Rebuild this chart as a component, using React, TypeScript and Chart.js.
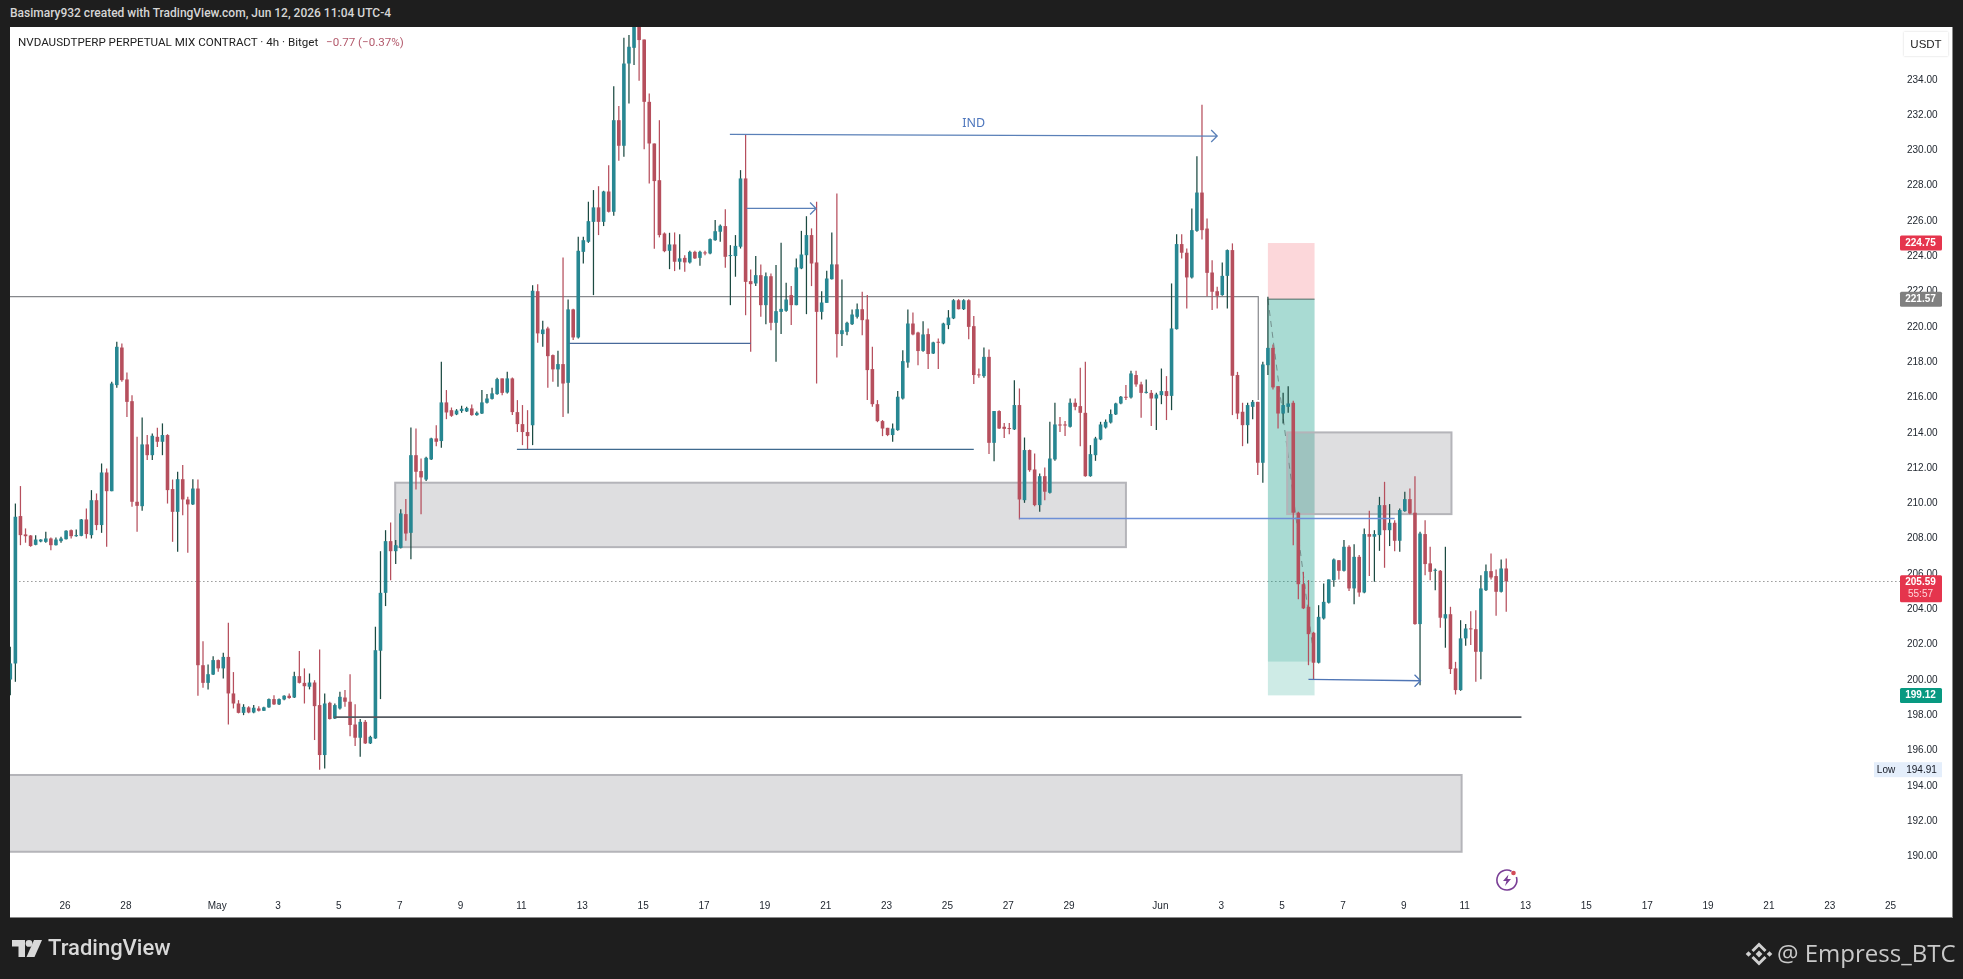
import React, { useEffect, useRef } from "react";
import { Chart, registerables } from "chart.js";

Chart.register(...registerables);

// ---- candles (4h NVDAUSDT perpetual) ----
const opens = [
200.02,200.93,209.28,208.24,208.18,207.65,207.84,207.82,208.01,207.63,
207.86,207.97,208.48,208.14,208.16,209.09,208.20,210.18,208.77,211.75,
210.69,216.70,218.83,217.02,215.79,210.09,209.84,213.34,212.73,213.77,
213.49,213.87,210.81,209.52,211.37,210.22,209.94,210.84,200.83,199.83,
200.30,201.12,200.65,201.30,199.23,198.66,198.13,198.44,198.15,198.38,
198.25,198.44,198.91,198.61,198.89,199.10,199.00,200.21,199.83,199.61,
199.85,198.57,195.74,198.70,197.81,198.38,199.00,198.76,197.47,196.72,
197.62,196.40,196.68,201.65,204.93,207.86,207.29,207.48,209.39,208.33,
212.73,211.83,211.35,212.49,213.68,213.53,215.72,215.28,215.04,215.23,
215.21,215.38,215.00,215.09,215.70,215.92,216.19,217.08,216.28,217.08,
215.17,214.49,214.04,214.43,222.02,219.59,219.91,218.40,217.59,217.89,
216.83,220.99,219.40,224.25,224.82,225.95,226.77,225.95,227.67,226.52,
231.71,230.26,234.92,235.81,237.40,236.28,232.75,230.39,228.31,225.29,
224.31,224.67,223.69,223.91,223.65,224.25,223.91,224.22,224.16,224.91,
225.39,225.71,224.01,224.01,224.54,228.41,222.59,222.46,222.93,221.23,
222.87,220.23,220.85,220.91,221.80,221.23,223.31,224.06,225.20,223.65,
220.85,221.36,222.70,223.54,219.59,219.72,220.15,220.57,221.00,220.42,
217.61,215.62,214.66,214.28,213.87,214.15,215.94,217.98,220.19,219.68,
218.64,219.59,218.49,219.15,219.06,220.10,220.48,221.51,221.00,221.51,
220.04,217.30,217.21,218.30,213.43,215.23,214.34,214.24,214.19,215.57,
210.18,213.02,211.92,209.90,211.54,210.60,212.49,214.47,214.47,214.34,
215.70,215.51,215.13,211.54,212.73,213.62,214.30,214.58,215.04,215.66,
216.04,216.00,217.27,216.74,216.26,216.26,215.94,216.13,216.36,216.09,
219.87,224.69,224.20,222.80,225.44,227.61,225.57,223.08,222.02,221.80,
222.89,224.35,217.27,215.19,214.43,215.47,215.75,212.30,217.83,218.81,
216.64,215.09,215.47,215.70,209.47,205.42,204.14,202.67,200.97,203.48,
204.37,205.65,206.78,206.18,207.54,205.18,206.97,204.95,208.26,208.11,
208.20,209.90,208.48,208.90,207.88,209.56,210.24,209.47,203.16,208.26,
206.60,206.18,206.18,203.48,203.72,200.65,199.42,202.35,202.91,202.87,
201.59,205.08,206.16,205.88,204.99,206.31];

const closes = [
200.93,209.24,208.20,208.14,207.58,207.95,207.95,208.01,207.63,207.95,
208.01,208.45,208.14,208.20,209.09,208.26,210.18,208.77,211.75,210.69,
216.79,218.87,216.98,215.75,210.09,209.86,213.34,212.73,213.83,213.49,
213.87,210.75,209.52,211.37,210.22,209.94,210.84,200.83,199.83,200.32,
201.12,200.65,201.30,199.23,198.66,198.13,198.47,198.15,198.42,198.25,
198.44,198.91,198.61,198.91,199.10,198.97,200.21,199.83,199.64,199.85,
198.51,195.74,198.66,197.78,198.57,199.04,198.76,197.44,196.72,197.62,
196.40,196.77,201.68,204.93,207.86,207.29,207.63,209.43,208.29,212.73,
211.79,211.47,212.58,213.68,213.49,215.72,215.15,214.96,215.26,215.36,
215.40,215.00,215.13,215.72,215.94,216.23,217.04,216.26,217.08,215.17,
214.49,214.04,213.81,222.04,219.63,219.85,218.34,217.59,217.89,216.79,
220.99,219.40,224.31,224.91,225.99,226.77,225.95,227.67,226.52,231.71,
230.26,234.92,235.87,237.40,236.25,232.75,230.39,228.26,225.20,224.29,
224.67,223.69,223.88,223.65,224.25,223.88,224.25,224.16,224.97,225.42,
225.73,223.97,224.06,224.59,228.41,222.55,222.42,222.93,221.23,222.87,
220.23,220.89,221.02,221.55,221.23,223.37,224.10,225.20,223.59,220.85,
221.38,222.74,223.54,219.59,219.81,220.23,220.70,221.00,220.38,217.55,
215.62,214.66,214.24,213.87,214.24,216.04,218.06,220.19,219.57,218.63,
219.57,218.46,219.12,219.10,220.19,220.53,221.51,221.00,221.51,220.00,
217.27,217.25,218.30,213.43,215.23,214.24,214.22,214.21,215.57,210.22,
213.02,211.88,209.90,211.54,210.66,212.54,214.47,214.41,214.41,215.70,
215.47,215.13,211.54,212.79,213.68,214.47,214.62,215.06,215.66,216.04,
215.98,217.36,216.74,216.26,216.32,215.94,216.17,216.36,216.08,219.91,
224.69,224.20,222.80,225.48,227.61,225.48,223.06,221.99,221.76,222.89,
224.35,217.23,215.09,214.43,215.57,215.75,212.30,217.87,218.81,216.57,
215.09,215.57,215.66,209.47,205.42,204.05,202.59,200.97,203.57,204.42,
205.69,206.82,206.18,207.54,205.18,206.97,204.95,208.26,208.11,208.26,
209.90,208.48,208.90,207.88,209.62,210.24,209.43,203.16,208.29,206.56,
206.12,206.22,203.52,203.72,200.61,199.42,202.35,202.91,202.86,201.59,
205.18,206.16,205.80,204.99,206.31,205.59];

const highs = [
201.87,209.99,210.98,208.58,208.20,208.20,207.97,208.39,208.07,208.07,
208.11,208.48,208.52,208.52,209.11,209.71,210.75,210.56,212.26,211.98,
216.89,219.15,219.06,217.42,216.13,213.77,214.87,213.87,213.96,214.28,
214.53,213.92,211.35,211.79,212.17,210.37,211.37,211.35,202.19,200.87,
201.34,201.16,201.53,203.23,200.44,198.85,198.62,198.51,198.57,198.51,
198.47,198.95,199.13,198.95,199.13,199.23,200.46,201.63,200.65,200.36,
199.98,201.72,199.23,198.76,198.66,199.32,199.42,200.32,198.62,197.78,
197.72,196.83,203.01,207.29,208.48,208.92,207.92,209.67,210.24,214.30,
214.24,212.54,212.64,213.72,214.43,218.02,216.42,215.43,215.34,215.53,
215.47,215.60,215.21,216.42,216.19,216.55,217.11,217.08,217.45,217.13,
215.85,215.57,215.28,222.36,222.42,220.34,220.00,218.44,218.64,223.93,
221.55,221.02,225.10,225.10,227.09,227.75,227.97,227.71,229.16,233.64,
232.51,236.38,236.53,238.00,238.00,236.28,233.22,230.39,231.71,225.35,
225.33,225.35,225.25,224.06,224.31,224.31,224.31,224.31,225.01,226.05,
225.80,226.67,224.63,225.20,228.88,230.90,223.25,224.01,223.54,223.08,
223.03,223.50,224.76,222.50,222.31,223.88,225.44,226.27,225.58,227.09,
222.02,223.18,225.35,227.56,222.69,220.29,220.99,221.33,221.99,221.80,
218.87,215.85,214.72,214.28,214.53,216.36,218.68,220.99,220.82,219.72,
220.32,219.91,219.15,219.34,220.23,220.95,221.57,221.57,221.57,221.57,
220.61,217.64,218.83,218.72,215.23,215.28,214.56,214.56,216.98,216.51,
213.73,213.05,212.83,211.69,212.03,214.62,215.70,214.90,214.66,215.94,
215.94,217.68,218.02,213.30,213.77,214.62,214.75,215.32,215.70,216.08,
216.70,217.51,217.51,216.89,217.02,216.42,216.26,217.64,217.21,222.46,
225.25,225.25,224.44,226.71,229.67,232.58,226.14,223.78,222.27,223.65,
224.39,224.73,217.45,215.70,215.70,215.85,215.75,218.02,221.70,219.00,
216.64,216.26,216.64,215.81,209.52,206.12,205.65,202.72,204.23,205.46,
205.69,206.88,206.78,207.92,207.63,207.69,207.07,208.58,209.58,208.48,
210.37,211.22,209.96,209.05,209.71,210.66,210.84,211.54,208.39,209.05,
207.54,206.31,206.22,207.54,204.14,201.02,203.38,203.16,203.89,203.95,
205.93,206.54,207.16,206.25,206.82,206.88];

const lows = [
199.13,199.89,207.63,207.77,207.54,207.63,207.80,207.77,207.35,207.61,
207.77,207.95,208.01,208.11,208.14,208.01,208.01,208.48,208.33,207.54,
210.69,216.55,216.89,214.90,209.81,208.39,209.58,212.45,212.45,213.20,
212.73,209.99,207.82,207.26,209.33,207.20,209.90,199.10,199.55,199.46,
200.27,200.46,200.08,197.47,198.38,198.10,198.00,198.11,198.11,198.21,
198.23,198.42,198.57,198.57,198.85,198.93,198.97,199.80,198.66,199.46,
196.59,194.91,194.98,197.76,197.78,198.32,198.47,196.81,196.25,195.64,
196.36,196.36,196.66,198.91,204.18,205.65,206.56,207.44,207.88,206.84,
210.79,209.39,211.26,212.45,213.24,213.15,214.77,214.90,215.00,215.13,
215.17,214.96,214.96,215.06,215.66,215.89,216.15,216.13,216.23,215.00,
214.04,213.30,213.07,213.30,219.10,218.87,216.55,216.89,216.60,214.90,
215.09,219.25,219.34,223.59,224.76,221.80,225.20,225.71,226.48,226.29,
229.41,229.64,232.66,234.83,233.94,230.07,228.12,224.42,225.07,224.23,
223.27,223.16,223.25,223.12,223.59,223.84,223.46,224.06,224.12,224.88,
224.82,223.35,221.23,222.84,224.44,220.66,218.59,222.31,220.57,220.15,
219.81,218.02,219.59,220.85,220.10,221.23,223.27,220.72,222.31,216.79,
220.42,221.36,222.69,218.27,218.91,219.53,220.10,220.48,219.53,215.85,
215.47,214.60,213.81,213.81,213.49,214.11,215.89,217.68,219.53,217.83,
218.59,217.61,218.46,217.61,219.02,219.87,220.44,220.99,220.95,219.30,
216.76,217.11,217.11,212.79,212.39,214.21,213.71,213.92,214.15,209.09,
210.03,211.79,209.84,209.52,210.18,210.56,212.41,214.05,213.81,214.30,
215.28,213.24,211.51,211.51,212.41,213.58,214.24,214.53,215.00,215.62,
215.85,215.94,216.60,214.85,216.23,214.38,214.15,215.62,214.72,215.28,
219.85,223.88,221.04,222.74,225.39,224.95,221.74,220.95,221.04,221.76,
221.04,215.00,214.77,213.24,213.39,214.77,211.60,211.17,217.27,216.45,
214.24,214.53,215.13,207.63,204.56,204.01,200.83,200.02,200.93,203.42,
204.33,205.27,205.69,206.14,205.03,204.29,204.71,204.90,205.88,205.56,
207.31,206.35,207.58,207.29,207.26,209.52,209.39,203.12,199.70,205.93,
205.65,205.08,202.95,201.82,200.33,199.17,199.38,201.93,201.97,199.89,
200.04,205.03,205.69,203.63,204.95,203.86];

// ---- axes ----
const priceTicks = [190,192,194,196,198,200,202,204,206,208,210,212,214,216,218,220,222,224,226,228,230,232,234];
const dateLabels = ["26","28","May","3","5","7","9","11","13","15","17","19","21","23","25","27","29","Jun","3","5","7","9","11","13","15","17","19","21","23","25"];
const dateTickBars = [10.8,22.8,40.8,52.8,64.8,76.8,88.8,100.8,112.8,124.8,136.8,148.8,160.8,172.8,184.8,196.8,208.8,226.8,238.8,250.8,262.8,274.8,286.8,298.8,310.8,322.8,334.8,346.8,358.8,370.8];

// ---- drawings, in candle index and price ----
const zoneBoxes = [
  { from: -2, to: 286.2, top: 194.61, bottom: 190.26 },
  { from: 75.9, to: 220, top: 211.17, bottom: 207.52 },
  { from: 251.8, to: 284.2, top: 214.02, bottom: 209.39 },
];
const shortPosition = { from: 248, to: 257.2, stop: 224.75, entry: 221.57, reached: 201.03, target: 199.12 };
const rangeFrame = [[-2, 221.71], [246.1, 221.71], [246.1, 215.85]];
const plainLines = [
  { from: [110.2, 219.06], to: [146, 219.06], color: "#47699a", width: 1.3 },
  { from: [99.9, 213.06], to: [190, 213.06], color: "#3f6a8e", width: 1.3 },
  { from: [199, 209.14], to: [273, 209.14], color: "#6d8fd6", width: 1.6 },
  { from: [63.9, 197.89], to: [298, 197.89], color: "#555a60", width: 1.8 },
];
const arrows = [
  { from: [141.9, 230.91], to: [238, 230.81], color: "#5a80b8" },
  { from: [145.2, 226.71], to: [158.9, 226.71], color: "#5a80b8" },
  { from: [256, 200.03], to: [278.1, 199.95], color: "#4f75b5" },
];
const indLabel = { text: "IND", bar: 190, price: 231.54 };
const lastPrice = 205.59;
const countdown = "55:57";
const lowPrice = 194.91;

const TEAL = "#278792";
const TEAL_WICK = "#1c4a42";
const RED = "#b64f5d";
const FONT = "'Liberation Sans', sans-serif";

const overlays = {
  id: "overlays",
  beforeDatasetsDraw(chart: any) {
    const { ctx, chartArea: a, scales } = chart;
    const X = (v: number) => scales.x.getPixelForValue(v);
    const Y = (v: number) => scales.y.getPixelForValue(v);
    ctx.save();
    ctx.beginPath();
    ctx.rect(a.left, a.top, a.right - a.left, a.bottom - a.top);
    ctx.clip();
    // last price line
    ctx.strokeStyle = "#666666";
    ctx.setLineDash([1, 3]);
    ctx.lineWidth = 1;
    ctx.beginPath();
    ctx.moveTo(X(1), Math.round(Y(lastPrice)) + 0.5);
    ctx.lineTo(a.right, Math.round(Y(lastPrice)) + 0.5);
    ctx.stroke();
    ctx.setLineDash([]);
    // position tool
    const p = shortPosition;
    const l = X(p.from), w = X(p.to) - l;
    ctx.fillStyle = "rgba(242,54,69,0.2)";
    ctx.fillRect(l, Y(p.stop), w, Y(p.entry) - Y(p.stop));
    ctx.fillStyle = "rgba(8,153,129,0.35)";
    ctx.fillRect(l, Y(p.entry), w, Y(p.reached) - Y(p.entry));
    ctx.fillStyle = "rgba(8,153,129,0.2)";
    ctx.fillRect(l, Y(p.reached), w, Y(p.target) - Y(p.reached));
    ctx.strokeStyle = "#4f6b64";
    ctx.lineWidth = 1;
    ctx.beginPath();
    ctx.moveTo(l, Y(p.entry));
    ctx.lineTo(l + w, Y(p.entry));
    ctx.stroke();
    ctx.strokeStyle = "rgba(90,110,110,0.7)";
    ctx.setLineDash([6, 5]);
    ctx.beginPath();
    ctx.moveTo(l, Y(p.entry));
    ctx.lineTo(l + w, Y(p.reached));
    ctx.stroke();
    ctx.setLineDash([]);
    // zones
    zoneBoxes.forEach((b) => {
      const x = X(b.from), y = Y(b.top), bw = X(b.to) - x, h = Y(b.bottom) - y;
      ctx.fillStyle = "rgba(126,126,136,0.26)";
      ctx.fillRect(x, y, bw, h);
      ctx.strokeStyle = "#b4b4b9";
      ctx.lineWidth = 2;
      ctx.strokeRect(x, y, bw, h);
    });
    // frame
    ctx.strokeStyle = "#86888c";
    ctx.lineWidth = 1.2;
    ctx.beginPath();
    rangeFrame.forEach((pt, i) => {
      if (i === 0) ctx.moveTo(X(pt[0]), Y(pt[1]));
      else ctx.lineTo(X(pt[0]), Y(pt[1]));
    });
    ctx.stroke();
    ctx.restore();
  },
  afterDatasetsDraw(chart: any) {
    const { ctx, scales } = chart;
    const X = (v: number) => scales.x.getPixelForValue(v);
    const Y = (v: number) => scales.y.getPixelForValue(v);
    ctx.save();
    plainLines.forEach((s) => {
      ctx.strokeStyle = s.color;
      ctx.lineWidth = s.width;
      ctx.beginPath();
      ctx.moveTo(X(s.from[0]), Y(s.from[1]));
      ctx.lineTo(X(s.to[0]), Y(s.to[1]));
      ctx.stroke();
    });
    arrows.forEach((s) => {
      const ex = X(s.to[0]), ey = Y(s.to[1]);
      ctx.strokeStyle = s.color;
      ctx.lineWidth = 1.3;
      ctx.beginPath();
      ctx.moveTo(X(s.from[0]), Y(s.from[1]));
      ctx.lineTo(ex, ey);
      ctx.moveTo(ex - 6, ey - 6);
      ctx.lineTo(ex, ey);
      ctx.lineTo(ex - 6, ey + 6);
      ctx.stroke();
    });
    ctx.fillStyle = "#4d76bd";
    ctx.font = "12.5px 'Noto Sans', sans-serif";
    ctx.textAlign = "center";
    ctx.textBaseline = "middle";
    ctx.fillText(indLabel.text, X(indLabel.bar), Y(indLabel.price));

    // price tags on the axis
    const L = 1900, W = 42;
    const tag = (v: number, bg: string, h: number, lines: string[]) => {
      const y = Y(v);
      ctx.fillStyle = bg;
      const top = lines.length > 1 ? y - 6 : y - h / 2;
      ctx.beginPath();
      ctx.roundRect(L, top, W, h, 1.5);
      ctx.fill();
      ctx.textAlign = "center";
      ctx.textBaseline = "middle";
      ctx.font = `bold 10px ${FONT}`;
      ctx.fillStyle = "#ffffff";
      ctx.fillText(lines[0], L + W / 2 - 0.5, top + 7.5);
      if (lines[1]) {
        ctx.font = `10px ${FONT}`;
        ctx.fillStyle = "#ffd5da";
        ctx.fillText(lines[1], L + W / 2 - 0.5, top + 19.5);
      }
    };
    tag(shortPosition.stop, "#e5354d", 15, [shortPosition.stop.toFixed(2)]);
    tag(shortPosition.entry, "#808080", 15, [shortPosition.entry.toFixed(2)]);
    tag(lastPrice, "#e5354d", 27, [lastPrice.toFixed(2), countdown]);
    tag(shortPosition.target, "#089981", 15, [shortPosition.target.toFixed(2)]);
    // low marker
    const ly = Y(lowPrice);
    ctx.fillStyle = "#e4eefb";
    ctx.fillRect(1874, ly - 7.5, 68, 15);
    ctx.fillStyle = "#131722";
    ctx.font = `10px ${FONT}`;
    ctx.fillText("Low", 1886, ly + 0.5);
    ctx.fillText(lowPrice.toFixed(2), 1921.5, ly + 0.5);
    ctx.restore();
  },
};

function BinanceMark() {
  return (
    <svg width="28" height="28" viewBox="0 0 28 28" style={{ position: "absolute", left: 1745, top: 940 }}>
      <g fill="none" stroke="#d0d0d0" strokeWidth="3">
        <path d="M7.5 11 L14 4.5 L20.5 11" />
        <path d="M7.5 17 L14 23.5 L20.5 17" />
      </g>
      <g fill="#d0d0d0">
        <rect x="11.6" y="11.6" width="4.8" height="4.8" transform="rotate(45 14 14)" />
        <rect x="1.5" y="12" width="4" height="4" transform="rotate(45 3.5 14)" />
        <rect x="22.5" y="12" width="4" height="4" transform="rotate(45 24.5 14)" />
      </g>
    </svg>
  );
}

function TvMark() {
  return (
    <svg width="30" height="18" viewBox="0 0 30 18" style={{ position: "absolute", left: 12, top: 940 }}>
      <g fill="#d9d9d9">
        <path d="M0 0 H13 V17 H6.5 V6.5 H0 Z" />
        <circle cx="17" cy="3.4" r="3.4" />
        <path d="M22 0 H30 L22.5 17 H14.5 Z" />
      </g>
    </svg>
  );
}

function BoltMark() {
  return (
    <svg width="26" height="26" viewBox="0 0 26 26" style={{ position: "absolute", left: 1494, top: 867 }}>
      <path d="M17.5 4.2 A10 10 0 1 0 22.4 10" fill="none" stroke="#7a3f96" strokeWidth="1.6" />
      <path d="M14.5 7.5 L9 14 H12.5 L11 19 L17 12 H13.4 Z" fill="#7a3f96" />
      <circle cx="19.5" cy="6" r="2.3" fill="#d34a57" />
    </svg>
  );
}

export default function App() {
  const ref = useRef<HTMLCanvasElement | null>(null);

  useEffect(() => {
    const idx = opens.map((_, i) => i);
    const isUp = (i: number) => closes[i] >= opens[i];
    const chart = new Chart(ref.current as HTMLCanvasElement, {
      type: "bar",
      plugins: [overlays],
      data: {
        datasets: [
          {
            label: "body",
            data: idx.map((i) => ({ x: i, y: [opens[i], closes[i]] })) as any,
            backgroundColor: idx.map((i) => (isUp(i) ? TEAL : RED)),
            barThickness: 3.6,
            minBarLength: 1,
            grouped: false,
            inflateAmount: 0,
          } as any,
          {
            label: "wick",
            data: idx.map((i) => ({ x: i, y: [lows[i], highs[i]] })) as any,
            backgroundColor: idx.map((i) => (isUp(i) ? TEAL_WICK : RED)),
            barThickness: 1.25,
            grouped: false,
            inflateAmount: 0,
          } as any,
        ],
      },
      options: {
        animation: false,
        responsive: false,
        devicePixelRatio: 1,
        layout: { padding: { left: 10, top: 27, right: 11, bottom: 61 } },
        plugins: { legend: { display: false }, tooltip: { enabled: false }, title: { display: false } },
        events: [],
        scales: {
          x: {
            type: "linear",
            offset: false,
            min: -0.06,
            max: 372.65,
            grid: { display: false, drawTicks: false, offset: false },
            border: { display: false },
            afterBuildTicks: (s: any) => {
              s.ticks = dateTickBars.map((value) => ({ value }));
            },
            afterFit: (s: any) => {
              s.height = 26;
              s.paddingLeft = 0;
              s.paddingRight = 0;
            },
            ticks: {
              autoSkip: false,
              maxRotation: 0,
              padding: 8,
              color: "#222831",
              font: { family: FONT, size: 10 },
              callback: (_v: any, i: number) => dateLabels[i],
            },
          },
          y: {
            type: "linear",
            position: "right",
            min: 187.98,
            max: 236.99,
            grid: { display: false, drawTicks: false },
            border: { display: false },
            afterBuildTicks: (s: any) => {
              s.ticks = priceTicks.map((value) => ({ value }));
            },
            afterFit: (s: any) => {
              s.width = 52;
              s.paddingTop = 0;
              s.paddingBottom = 0;
            },
            ticks: {
              autoSkip: false,
              padding: 7,
              color: "#222831",
              font: { family: FONT, size: 10 },
              callback: (v: any) => Number(v).toFixed(2),
            },
          },
        },
      } as any,
    });
    return () => chart.destroy();
  }, []);

  return (
    <div style={{ position: "fixed", left: 0, top: 0, width: 1963, height: 979, background: "#1e1e1e", overflow: "hidden" }}>
      <div style={{ position: "absolute", left: 10, top: 6, color: "#d6d6d6", font: "500 12px Roboto, sans-serif", whiteSpace: "nowrap" }}>
        Basimary932 created with TradingView.com, Jun 12, 2026 11:04 UTC-4
      </div>
      <div style={{ position: "absolute", left: 10, top: 27, width: 1942, height: 890, background: "#fff", borderRight: "1px solid #8a8a8a", borderBottom: "1px solid #8a8a8a" }} />
      <canvas ref={ref} width={1963} height={979} style={{ position: "absolute", left: 0, top: 0, width: 1963, height: 979 }} />
      <div style={{ position: "absolute", left: 18, top: 35, color: "#222", font: "11.6px Roboto, sans-serif", whiteSpace: "nowrap" }}>
        NVDAUSDTPERP PERPETUAL MIX CONTRACT · 4h · Bitget
      </div>
      <div style={{ position: "absolute", left: 326, top: 35, color: "#b35a6c", font: "11.6px Roboto, sans-serif", whiteSpace: "nowrap" }}>
        −0.77 (−0.37%)
      </div>
      <div style={{ position: "absolute", left: 1904, top: 32, width: 44, height: 24, textAlign: "center", background: "#fff", boxShadow: "0 0 2px rgba(0,0,0,0.18)", color: "#222", font: "11.5px 'Liberation Sans', sans-serif", lineHeight: "24px" }}>
        USDT
      </div>
      <BoltMark />
      <TvMark />
      <div style={{ position: "absolute", left: 48, top: 935, color: "#d9d9d9", font: "500 22px Roboto, sans-serif", whiteSpace: "nowrap" }}>
        TradingView
      </div>
      <BinanceMark />
      <div style={{ position: "absolute", left: 1777, top: 936, color: "#c9c9c9", font: "24px 'Open Sans', sans-serif", whiteSpace: "nowrap" }}>
        @ Empress_BTC
      </div>
    </div>
  );
}
